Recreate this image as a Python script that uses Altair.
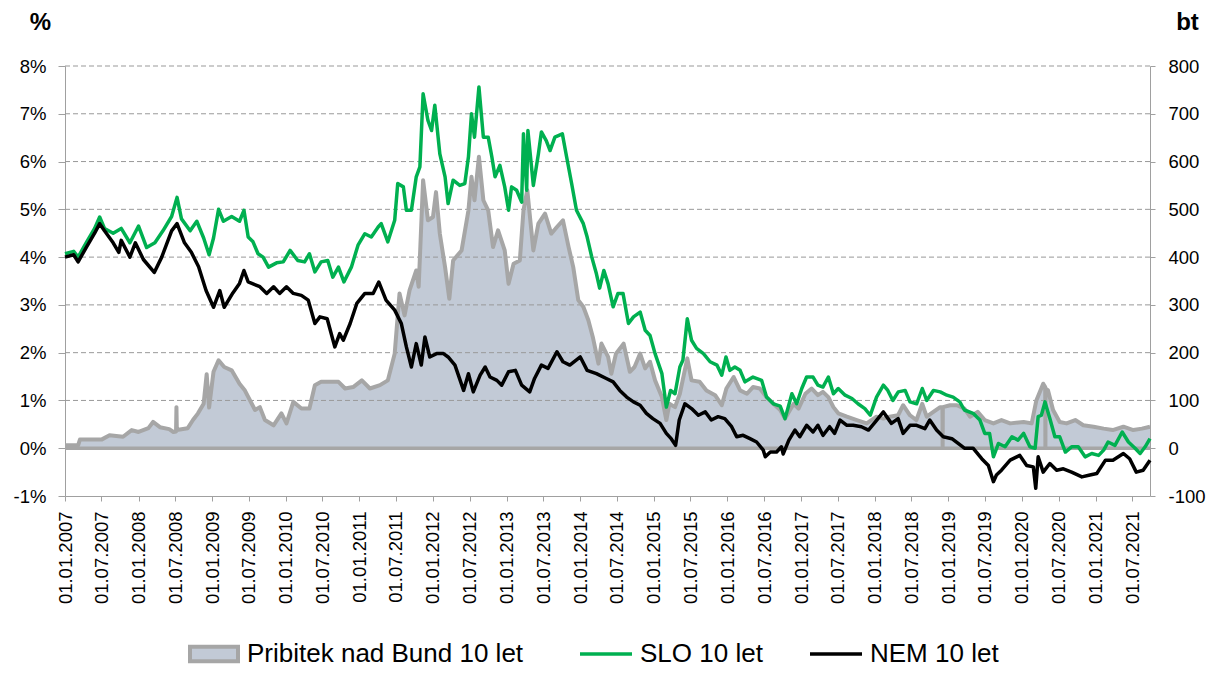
import altair as alt
import pandas as pd

# ---------------- data ----------------
slo_dates = [
    "2007-01-01", "2007-02-13", "2007-03-07", "2007-04-16", "2007-05-28", "2007-06-22", "2007-07-16", "2007-08-28", "2007-10-07", "2007-11-19",
    "2008-01-01", "2008-02-10", "2008-03-22", "2008-05-01", "2008-06-13", "2008-07-10", "2008-08-01", "2008-09-13", "2008-10-16", "2008-11-19",
    "2008-12-16", "2009-01-07", "2009-02-01", "2009-02-25", "2009-04-07", "2009-05-16", "2009-06-07", "2009-06-28", "2009-07-22", "2009-08-16",
    "2009-09-10", "2009-10-07", "2009-11-16", "2009-12-19", "2010-01-22", "2010-03-01", "2010-04-04", "2010-04-28", "2010-05-25", "2010-06-25",
    "2010-07-28", "2010-08-22", "2010-09-19", "2010-10-16", "2010-11-22", "2010-12-25", "2011-01-28", "2011-03-01", "2011-04-04", "2011-04-19",
    "2011-05-22", "2011-06-25", "2011-07-10", "2011-08-07", "2011-08-22", "2011-09-16", "2011-10-10", "2011-10-28", "2011-11-13", "2011-12-07",
    "2011-12-25", "2012-01-10", "2012-02-04", "2012-03-01", "2012-03-16", "2012-04-10", "2012-05-13", "2012-06-07", "2012-06-25", "2012-07-10",
    "2012-07-25", "2012-08-16", "2012-09-07", "2012-10-01", "2012-10-19", "2012-11-04", "2012-11-28", "2012-12-22", "2013-01-10", "2013-01-25",
    "2013-02-19", "2013-03-16", "2013-03-25", "2013-04-10", "2013-04-16", "2013-05-13", "2013-06-07", "2013-06-22", "2013-07-16", "2013-08-04",
    "2013-08-28", "2013-10-04", "2013-10-25", "2013-11-19", "2013-12-13", "2014-01-16", "2014-02-04", "2014-02-27", "2014-03-22", "2014-04-07",
    "2014-04-28", "2014-05-19", "2014-06-13", "2014-07-07", "2014-08-01", "2014-08-28", "2014-09-22", "2014-10-25", "2014-11-19", "2014-12-13",
    "2015-01-07", "2015-02-10", "2015-03-04", "2015-03-25", "2015-04-16", "2015-05-10", "2015-05-25", "2015-06-16", "2015-07-07", "2015-08-01",
    "2015-09-04", "2015-10-07", "2015-11-10", "2015-12-04", "2015-12-25", "2016-01-13", "2016-02-07", "2016-03-04", "2016-03-28", "2016-05-07",
    "2016-06-19", "2016-07-13", "2016-08-16", "2016-09-19", "2016-10-13", "2016-11-16", "2016-12-10", "2017-01-04", "2017-01-28", "2017-03-01",
    "2017-03-25", "2017-04-19", "2017-05-16", "2017-06-10", "2017-07-04", "2017-08-07", "2017-09-10", "2017-10-10", "2017-11-13", "2017-12-10",
    "2018-01-10", "2018-02-13", "2018-03-07", "2018-04-01", "2018-04-28", "2018-06-01", "2018-06-25", "2018-07-28", "2018-08-25", "2018-09-16",
    "2018-10-19", "2018-11-22", "2018-12-25", "2019-01-25", "2019-02-27", "2019-03-22", "2019-05-04", "2019-06-07", "2019-07-01", "2019-07-25",
    "2019-08-13", "2019-09-07", "2019-10-10", "2019-11-13", "2019-12-13", "2020-01-10", "2020-02-10", "2020-03-07", "2020-03-22", "2020-04-07",
    "2020-04-25", "2020-05-19", "2020-06-13", "2020-07-07", "2020-08-04", "2020-09-04", "2020-10-07", "2020-11-10", "2020-12-13", "2021-01-16",
    "2021-02-10", "2021-03-04", "2021-04-07", "2021-05-13", "2021-06-13", "2021-07-16", "2021-08-10", "2021-09-04", "2021-09-28",
]
slo_vals = [
    4.07, 4.12, 4.0, 4.3, 4.6, 4.84, 4.6, 4.5, 4.6, 4.3,
    4.65, 4.2, 4.3, 4.55, 4.85, 5.25, 4.8, 4.55, 4.75, 4.4,
    4.05, 4.4, 5.0, 4.75, 4.85, 4.75, 4.98, 4.42, 4.32, 4.07,
    4.0, 3.79, 3.88, 3.9, 4.14, 3.93, 3.9, 4.07, 3.69, 3.9,
    3.93, 3.58, 3.79, 3.48, 3.79, 4.25, 4.49, 4.42, 4.63, 4.7,
    4.32, 4.77, 5.54, 5.47, 4.98, 4.98, 5.68, 5.89, 7.42, 6.86,
    6.65, 7.18, 6.16, 5.68, 5.12, 5.61, 5.5, 5.54, 6.1, 7.0,
    6.51, 7.56, 6.51, 6.51, 6.1, 5.68, 5.92, 5.47, 4.98, 5.47,
    5.4, 5.15, 6.58, 5.4, 6.65, 5.5, 6.16, 6.62, 6.44, 6.23,
    6.51, 6.58, 6.1, 5.54, 4.98, 4.7, 4.42, 4.0, 3.65, 3.35,
    3.72, 3.44, 2.96, 3.24, 3.24, 2.61, 2.75, 2.85, 2.47, 2.36,
    1.98, 1.56, 0.86, 1.21, 1.14, 1.7, 1.84, 2.71, 2.26, 2.09,
    1.98, 1.81, 1.74, 1.53, 1.91, 1.63, 1.7, 1.63, 1.39, 1.49,
    1.42, 1.07, 0.93, 0.88, 0.62, 1.14, 0.93, 1.25, 1.49, 1.49,
    1.32, 1.28, 1.49, 1.14, 1.25, 1.11, 1.04, 0.93, 0.83, 0.69,
    1.07, 1.32, 1.21, 1.0, 1.18, 1.21, 0.97, 0.93, 1.25, 1.0,
    1.21, 1.18, 1.11, 1.07, 0.97, 0.8, 0.73, 0.59, 0.31, 0.31,
    -0.18, 0.1, 0.03, 0.24, 0.17, 0.31, 0.03, 0.0, 0.66, 0.69,
    0.97, 0.62, 0.24, 0.24, -0.08, 0.03, 0.03, -0.18, -0.11, -0.15,
    -0.04, 0.13, 0.06, 0.34, 0.13, 0.0, -0.11, 0.03, 0.2,
]

nem_dates = [
    "2007-01-01", "2007-02-13", "2007-03-07", "2007-04-16", "2007-05-28", "2007-06-22", "2007-07-16", "2007-08-28", "2007-09-25", "2007-10-07",
    "2007-11-19", "2007-12-16", "2008-01-25", "2008-03-19", "2008-04-25", "2008-06-13", "2008-07-10", "2008-08-16", "2008-09-19", "2008-10-25",
    "2008-12-01", "2009-01-07", "2009-02-07", "2009-03-01", "2009-04-13", "2009-05-16", "2009-06-07", "2009-06-28", "2009-07-22", "2009-08-25",
    "2009-09-28", "2009-11-01", "2009-12-01", "2010-01-04", "2010-02-07", "2010-03-19", "2010-04-22", "2010-05-25", "2010-06-19", "2010-07-25",
    "2010-09-01", "2010-09-25", "2010-10-13", "2010-11-16", "2010-12-19", "2011-01-28", "2011-03-10", "2011-04-07", "2011-05-13", "2011-06-25",
    "2011-07-28", "2011-08-22", "2011-09-16", "2011-10-10", "2011-11-04", "2011-11-22", "2011-12-16", "2012-01-19", "2012-02-22", "2012-03-16",
    "2012-04-19", "2012-06-01", "2012-06-25", "2012-07-19", "2012-08-22", "2012-09-16", "2012-10-10", "2012-11-13", "2012-12-07", "2013-01-10",
    "2013-02-13", "2013-03-16", "2013-04-25", "2013-05-19", "2013-06-22", "2013-07-25", "2013-09-07", "2013-10-07", "2013-11-10", "2014-01-01",
    "2014-02-04", "2014-03-22", "2014-05-10", "2014-06-13", "2014-07-16", "2014-08-19", "2014-09-22", "2014-10-25", "2014-11-25", "2014-12-27",
    "2015-02-01", "2015-03-04", "2015-03-28", "2015-04-19", "2015-05-07", "2015-06-04", "2015-07-07", "2015-08-10", "2015-09-13", "2015-10-13",
    "2015-11-16", "2015-12-19", "2016-01-22", "2016-02-16", "2016-03-19", "2016-04-22", "2016-05-25", "2016-06-27", "2016-07-07", "2016-08-01",
    "2016-09-01", "2016-09-25", "2016-10-04", "2016-11-01", "2016-12-01", "2016-12-25", "2017-01-28", "2017-03-01", "2017-03-25", "2017-04-19",
    "2017-05-22", "2017-06-16", "2017-07-13", "2017-08-16", "2017-09-16", "2017-10-27", "2017-12-01", "2018-01-04", "2018-02-13", "2018-03-25",
    "2018-04-27", "2018-05-22", "2018-06-25", "2018-07-28", "2018-09-07", "2018-10-01", "2018-11-04", "2018-12-07", "2019-01-19", "2019-02-19",
    "2019-03-22", "2019-05-04", "2019-06-16", "2019-07-19", "2019-08-13", "2019-08-28", "2019-09-22", "2019-11-04", "2019-12-22", "2020-01-25",
    "2020-02-27", "2020-03-10", "2020-03-22", "2020-04-16", "2020-05-19", "2020-06-22", "2020-07-25", "2020-09-04", "2020-10-25", "2020-12-04",
    "2021-01-07", "2021-02-19", "2021-03-28", "2021-05-19", "2021-06-19", "2021-07-22", "2021-08-25", "2021-09-28",
]
nem_vals = [
    4.0, 4.05, 3.9, 4.2, 4.5, 4.7, 4.55, 4.3, 4.1, 4.35,
    4.0, 4.3, 3.95, 3.68, 4.0, 4.55, 4.7, 4.3, 4.1, 3.8,
    3.3, 2.95, 3.3, 2.95, 3.25, 3.45, 3.72, 3.48, 3.44, 3.38,
    3.24, 3.38, 3.24, 3.38, 3.24, 3.2, 3.1, 2.61, 2.75, 2.71,
    2.12, 2.4, 2.26, 2.61, 3.03, 3.24, 3.24, 3.48, 3.1, 2.89,
    2.61, 2.12, 1.7, 2.19, 1.74, 2.33, 1.91, 1.98, 1.98, 1.91,
    1.74, 1.21, 1.56, 1.18, 1.53, 1.7, 1.49, 1.42, 1.32, 1.6,
    1.63, 1.32, 1.18, 1.46, 1.74, 1.67, 2.02, 1.81, 1.74, 1.91,
    1.63, 1.56, 1.46, 1.39, 1.21, 1.07, 0.97, 0.9, 0.73, 0.62,
    0.52, 0.31, 0.2, 0.06, 0.59, 0.93, 0.83, 0.69, 0.76, 0.59,
    0.66, 0.62, 0.45, 0.24, 0.27, 0.2, 0.13, -0.04, -0.18, -0.08,
    -0.08, 0.03, -0.12, 0.17, 0.38, 0.24, 0.48, 0.34, 0.48, 0.27,
    0.45, 0.31, 0.59, 0.48, 0.48, 0.45, 0.38, 0.55, 0.76, 0.52,
    0.62, 0.31, 0.48, 0.48, 0.41, 0.59, 0.38, 0.24, 0.2, 0.1,
    0.0, 0.0, -0.22, -0.36, -0.7, -0.56, -0.46, -0.25, -0.15, -0.36,
    -0.39, -0.84, -0.18, -0.5, -0.32, -0.46, -0.43, -0.5, -0.6, -0.56,
    -0.53, -0.25, -0.25, -0.11, -0.22, -0.5, -0.46, -0.25,
]

spread_dates = [
    "2007-01-01", "2007-03-07", "2007-03-16", "2007-07-01", "2007-08-10", "2007-10-16", "2007-11-28", "2008-01-01", "2008-02-19", "2008-03-13",
    "2008-04-16", "2008-06-01", "2008-06-22", "2008-07-05", "2008-07-07", "2008-07-09", "2008-09-01", "2008-09-27", "2008-10-22", "2008-11-19",
    "2008-12-04", "2008-12-16", "2009-01-07", "2009-02-01", "2009-03-01", "2009-04-07", "2009-05-16", "2009-06-10", "2009-08-01", "2009-08-25",
    "2009-09-19", "2009-11-01", "2009-12-10", "2010-01-04", "2010-02-07", "2010-03-19", "2010-04-28", "2010-05-25", "2010-06-25", "2010-08-16",
    "2010-09-19", "2010-10-22", "2010-12-01", "2011-01-13", "2011-02-22", "2011-04-13", "2011-05-22", "2011-06-25", "2011-07-19", "2011-08-13",
    "2011-09-07", "2011-10-10", "2011-10-22", "2011-11-13", "2011-12-07", "2012-01-01", "2012-01-16", "2012-02-04", "2012-03-01", "2012-03-22",
    "2012-04-10", "2012-05-22", "2012-06-25", "2012-07-10", "2012-07-25", "2012-08-16", "2012-09-07", "2012-10-01", "2012-10-25", "2012-11-19",
    "2012-12-22", "2013-01-10", "2013-02-04", "2013-03-07", "2013-03-25", "2013-04-13", "2013-05-13", "2013-06-07", "2013-07-10", "2013-08-10",
    "2013-09-07", "2013-10-07", "2013-11-04", "2013-11-27", "2013-12-22", "2014-01-16", "2014-02-10", "2014-03-04", "2014-04-01", "2014-04-16",
    "2014-05-19", "2014-06-04", "2014-06-27", "2014-08-04", "2014-09-04", "2014-09-27", "2014-10-25", "2014-11-19", "2014-12-13", "2015-01-07",
    "2015-02-10", "2015-03-04", "2015-03-19", "2015-04-16", "2015-05-10", "2015-06-16", "2015-07-07", "2015-08-16", "2015-09-19", "2015-11-01",
    "2015-12-04", "2015-12-27", "2016-02-01", "2016-03-04", "2016-04-07", "2016-05-07", "2016-06-10", "2016-07-13", "2016-08-16", "2016-09-19",
    "2016-10-13", "2016-11-25", "2016-12-19", "2017-01-22", "2017-02-22", "2017-03-25", "2017-04-19", "2017-05-16", "2017-06-10", "2017-07-04",
    "2017-08-16", "2017-10-04", "2017-11-22", "2018-01-10", "2018-02-13", "2018-03-16", "2018-04-27", "2018-05-22", "2018-06-25", "2018-07-27",
    "2018-08-25", "2018-09-16", "2018-10-19", "2018-11-22", "2018-12-03", "2018-12-04", "2018-12-05", "2019-01-10", "2019-02-13", "2019-03-22",
    "2019-04-19", "2019-05-27", "2019-07-01", "2019-08-13", "2019-09-22", "2019-11-04", "2020-01-10", "2020-02-19", "2020-03-13", "2020-04-16",
    "2020-04-26", "2020-04-27", "2020-04-28", "2020-05-10", "2020-06-04", "2020-07-07", "2020-08-10", "2020-09-22", "2020-11-01", "2020-12-22",
    "2021-02-10", "2021-03-27", "2021-05-19", "2021-07-07", "2021-08-19", "2021-09-28",
]
spread_bt = [
    6, 6, 18, 18, 27, 24, 38, 34, 42, 55,
    44, 40, 34, 35, 86, 38, 42, 59, 73, 93,
    155, 85, 160, 184, 170, 163, 135, 122, 80, 86,
    59, 48, 73, 52, 97, 83, 83, 132, 139, 139,
    139, 125, 128, 142, 125, 132, 142, 198, 324, 278,
    331, 372, 338, 561, 477, 484, 536, 449, 379, 313,
    393, 414, 498, 568, 519, 610, 519, 498, 421, 456,
    414, 344, 386, 393, 498, 540, 414, 470, 491, 449,
    463, 477, 421, 379, 310, 296, 268, 233, 177, 219,
    191, 156, 198, 219, 160, 170, 198, 167, 181, 142,
    107, 59, 93, 86, 114, 188, 142, 139, 121, 111,
    90, 125, 149, 121, 114, 128, 125, 107, 93, 80,
    62, 93, 83, 114, 125, 111, 118, 107, 86, 73,
    66, 59, 52, 66, 62, 66, 69, 90, 69, 59,
    93, 66, 76, 86, 86, 3, 86, 90, 90, 83,
    66, 76, 59, 52, 59, 52, 55, 52, 100, 135,
    128, 3, 125, 121, 80, 55, 52, 59, 48, 45,
    41, 38, 45, 38, 41, 45,
]

x_tick_dates = [
    "2007-01-01", "2007-07-01", "2008-01-01", "2008-07-01", "2009-01-01", "2009-07-01",
    "2010-01-01", "2010-07-01", "2011-01-01", "2011-07-01", "2012-01-01", "2012-07-01",
    "2013-01-01", "2013-07-01", "2014-01-01", "2014-07-01", "2015-01-01", "2015-07-01",
    "2016-01-01", "2016-07-01", "2017-01-01", "2017-07-01", "2018-01-01", "2018-07-01",
    "2019-01-01", "2019-07-01", "2020-01-01", "2020-07-01", "2021-01-01", "2021-07-01",
]
x_range = ["2007-01-01", "2021-09-28"]
pct_ticks = [-1, 0, 1, 2, 3, 4, 5, 6, 7, 8]
bt_ticks = [-100, 0, 100, 200, 300, 400, 500, 600, 700, 800]
grid_levels = [1, 2, 3, 4, 5, 6, 7, 8]

AREA_NAME = "Pribitek nad Bund 10 let"
SLO_NAME = "SLO 10 let"
NEM_NAME = "NEM 10 let"

FILL = "#C2CAD6"
GRAY = "#A6A6A6"
GREEN = "#00B050"
BLACK = "#000000"
FONT = "Liberation Sans"


def ms(s):
    return int(pd.Timestamp(s).value // 10**6)


spread_df = pd.DataFrame({"date": spread_dates, "bt": spread_bt, "series": AREA_NAME})
slo_df = pd.DataFrame({"date": slo_dates, "pct": slo_vals, "series": SLO_NAME})
nem_df = pd.DataFrame({"date": nem_dates, "pct": nem_vals, "series": NEM_NAME})
grid_df = pd.DataFrame({"v": grid_levels})
zero_df = pd.DataFrame({"v": [0]})

x_axis = alt.Axis(
    values=[ms(d) for d in x_tick_dates],
    labelExpr="utcFormat(datum.value, '%d.%m.%Y')",
    labelAngle=270, labelFontSize=18.5, labelFont=FONT, labelColor="black",
    labelPadding=10, tickSize=5, tickColor="#A0A0A0", domainColor="#A0A0A0",
    grid=False, title=None, labelOverlap=False, labelFlush=False,
)
x_enc = alt.X("date:T", scale=alt.Scale(type="utc", domain=[ms(d) for d in x_range]), axis=x_axis)

pct_scale = alt.Scale(domain=[-1, 8], nice=False, zero=False)
bt_scale = alt.Scale(domain=[-100, 800], nice=False, zero=True)

left_axis = alt.Axis(
    orient="left", values=pct_ticks, labelExpr="datum.value + '%'", grid=False,
    labelFontSize=18.5, labelFont=FONT, labelColor="black", labelPadding=12,
    tickSize=7, tickColor="#A0A0A0", domainColor="#A0A0A0",
    title="%", titleAngle=0, titleX=-25, titleY=-44, titleAlign="center", titleBaseline="middle",
    titleFontSize=24, titleFont=FONT, titleFontWeight="bold", titleColor="black",
)
right_axis = alt.Axis(
    orient="right", values=bt_ticks, labelExpr="'' + datum.value", grid=False,
    labelFontSize=18.5, labelFont=FONT, labelColor="black", labelPadding=13,
    tickSize=5, tickColor="#A0A0A0", domainColor="#A0A0A0",
    title="bt", titleAngle=0, titleX=37, titleY=-44, titleAlign="center", titleBaseline="middle",
    titleFontSize=24, titleFont=FONT, titleFontWeight="bold", titleColor="black",
)

area = alt.Chart(spread_df).mark_area(opacity=1).encode(
    x=x_enc,
    y=alt.Y("bt:Q", scale=bt_scale, axis=right_axis),
    fill=alt.Fill(
        "series:N",
        scale=alt.Scale(domain=[AREA_NAME], range=[FILL]),
        legend=alt.Legend(
            title=None, orient="none", legendX=123, legendY=562, direction="horizontal",
            symbolType="M-1,-0.3H1V0.3H-1Z", symbolSize=2304, symbolStrokeColor=GRAY,
            symbolStrokeWidth=4, symbolFillColor=FILL, symbolOpacity=1,
            labelFont=FONT, labelFontSize=26, labelColor="black", labelOffset=7,
            labelLimit=500, padding=0,
        ),
    ),
)

grid = alt.Chart(grid_df).mark_rule(color="#999999", strokeWidth=1, strokeDash=[5, 3]).encode(
    y=alt.Y("v:Q", scale=pct_scale, axis=None)
)

zero = alt.Chart(zero_df).mark_rule(color=GRAY, strokeWidth=3.5).encode(
    y=alt.Y("v:Q", scale=pct_scale, axis=None)
)

gray_line = alt.Chart(spread_df).mark_line(color=GRAY, strokeWidth=4, strokeJoin="round").encode(
    x=x_enc,
    y=alt.Y("bt:Q", scale=bt_scale, axis=None),
)

stroke_enc = alt.Stroke(
    "series:N",
    scale=alt.Scale(domain=[SLO_NAME, NEM_NAME], range=[GREEN, BLACK]),
    legend=alt.Legend(
        title=None, orient="none", legendX=513, legendY=560, direction="horizontal",
        symbolType="stroke", symbolSize=2704, symbolStrokeWidth=3.5,
        labelFont=FONT, labelFontSize=26, labelColor="black", labelOffset=6,
        labelLimit=500, columnPadding=40, padding=0,
    ),
)

slo_line = alt.Chart(slo_df).mark_line(strokeWidth=3.5, strokeJoin="round").encode(
    x=x_enc,
    y=alt.Y("pct:Q", scale=pct_scale, axis=left_axis),
    stroke=stroke_enc,
)

nem_line = alt.Chart(nem_df).mark_line(strokeWidth=3.5, strokeJoin="round").encode(
    x=x_enc,
    y=alt.Y("pct:Q", scale=pct_scale, axis=None),
    stroke=stroke_enc,
)

chart = (
    alt.layer(area, grid, zero, gray_line, slo_line, nem_line)
    .resolve_scale(y="independent")
    .properties(
        width=1085, height=430,
        autosize=alt.AutoSizeParams(type="none"),
        padding={"left": 57, "top": 58, "right": 60, "bottom": 171},
        background="white",
    )
    .configure_view(stroke=None)
)

chart.save("out.html", embed_options={"renderer": "svg", "actions": False})
